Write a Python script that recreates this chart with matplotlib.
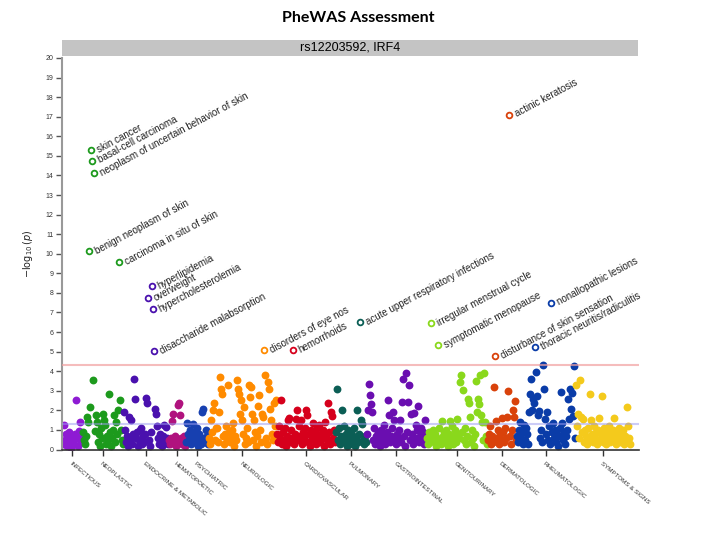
import numpy as np
import matplotlib.pyplot as plt

# categories in plot order
categories = ['INFECTIOUS', 'NEOPLASTIC', 'ENDOCRINE & METABOLIC', 'HEMATOPOETIC',
              'PSYCHIATRIC', 'NEUROLOGIC', 'CARDIOVASCULAR', 'PULMONARY',
              'GASTROINTESTINAL', 'GENITOURINARY', 'DERMATOLOGIC', 'RHEUMATOLOGIC',
              'SYMPTOMS & SIGNS']
colors = ['#8E1BD3', '#1D9A1D', '#4A11AE', '#B0127E', '#1740B0', '#FF8B00',
          '#D6001C', '#0B5E55', '#6A0EB0', '#8AD81C', '#D9420B', '#0A3CA8', '#F4CA1C']

# -log10(p) per phenotype, in phecode order within each category
infectious = [0.3, 1.24, 0.5, 0.8, 0.2, 0.6, 0.9, 0.4, 0.1, 0.7, 0.3, 0.5, 0.8, 2.55, 0.6,
              0.2, 0.95, 1.41, 0.4, 0.7]
neoplastic = [0.9, 0.5, 0.3, 0.7, 1.68, 1.4, 10.12, 2.16, 15.3, 14.76, 3.53, 14.1, 0.95, 1.78,
              1.4, 0.4, 0.8, 0.2, 1.1, 0.6, 1.8, 1.5, 1.24, 0.3, 0.7, 0.5, 2.86, 0.9, 0.2, 0.6,
              1.0, 1.75, 0.4, 1.4, 0.8, 2.0, 9.56, 2.55, 0.98, 0.5, 0.3]
endocrine = [1.9, 0.98, 0.4, 0.7, 0.2, 1.66, 0.5, 1.5, 0.3, 0.8, 3.62, 2.6, 0.6, 0.9, 0.2,
             0.5, 1.0, 1.1, 0.3, 0.7, 0.4, 0.8, 2.65, 2.35, 7.72, 0.5, 0.2, 0.9, 8.33, 7.16,
             5.02, 2.09, 1.83, 1.19, 0.6, 0.3, 0.8, 0.5, 0.2, 0.7, 1.27, 0.4, 1.15, 0.6, 0.3]
hematopoetic = [0.5, 0.3, 0.6, 1.45, 1.81, 0.4, 0.7, 0.2, 0.5, 2.25, 2.4, 1.75, 0.6, 0.3,
                0.5, 0.7, 0.2]
psychiatric = [0.4, 1.34, 0.8, 0.5, 1.0, 0.3, 0.7, 1.3, 0.9, 0.4, 0.6, 1.09, 0.2, 0.8, 0.5,
               0.3, 1.92, 2.09, 0.6, 0.4, 0.99, 0.7, 0.3]
neurologic = [0.6, 0.3, 1.5, 0.9, 2.04, 2.35, 0.5, 1.1, 1.09, 0.4, 1.92, 3.7, 3.11, 2.86, 0.7,
              0.3, 0.8, 1.2, 0.5, 3.28, 0.9, 0.4, 0.6, 1.0, 1.34, 0.2, 0.7, 0.5, 3.54, 3.11,
              2.85, 1.83, 2.52, 1.49, 0.8, 2.17, 0.3, 0.6, 1.1, 0.4, 3.28, 2.68, 3.2, 1.83,
              0.5, 1.5, 0.9, 0.2, 0.7, 2.22, 2.8, 1.0, 0.4, 1.83, 1.66, 5.07, 3.79, 0.6, 0.3,
              3.45, 3.11, 2.09, 1.49, 0.8, 0.5, 2.35, 1.2, 2.55]
cardiovascular = [0.8, 0.4, 1.2, 0.6, 2.55, 0.3, 0.9, 0.5, 1.1, 0.2, 0.7, 1.5, 1.6, 0.4, 1.0,
                  0.6, 5.07, 0.3, 0.8, 1.58, 2.04, 0.5, 1.2, 0.7, 1.5, 0.3, 0.9, 0.6, 1.1,
                  2.0, 1.75, 0.4, 0.8, 0.2, 1.0, 0.6, 1.34, 0.5, 0.9, 0.3, 1.1, 0.7, 1.26,
                  0.4, 0.8, 0.6, 1.0, 0.2, 1.43, 0.7, 0.5, 2.38, 0.9, 0.3, 1.92, 1.7, 0.6,
                  1.0, 0.4]
pulmonary = [0.9, 3.11, 0.5, 1.1, 0.3, 0.7, 2.04, 0.6, 1.2, 0.4, 0.8, 0.2, 1.0, 0.6, 0.3,
             0.9, 0.5, 0.7, 1.1, 0.2, 0.6, 2.04, 0.4, 0.8, 6.5, 1.49, 1.32, 0.5, 0.3, 0.7, 0.4]
gastrointestinal = [0.8, 2.0, 3.37, 2.77, 2.34, 1.9, 0.5, 1.1, 0.3, 0.7, 0.4, 0.9, 0.6, 0.2,
                    1.0, 0.5, 0.8, 1.24, 0.3, 0.6, 0.9, 2.55, 1.75, 0.4, 0.7, 1.1, 1.92,
                    1.5, 0.5, 0.3, 0.8, 0.6, 1.0, 1.49, 0.4, 2.43, 3.62, 0.7, 0.2, 3.91, 0.9,
                    2.43, 3.28, 0.5, 1.83, 0.8, 0.3, 1.87, 0.6, 1.24, 1.0, 2.24, 0.4, 0.7,
                    1.1, 0.5, 0.9, 0.3, 1.49, 0.6]
genitourinary = [0.6, 0.3, 0.9, 0.5, 6.45, 0.7, 1.0, 0.4, 0.8, 0.2, 0.6, 5.33, 1.1, 0.5, 0.3,
                 1.44, 0.7, 0.9, 0.4, 1.0, 0.6, 0.2, 0.8, 1.48, 0.5, 1.2, 0.3, 0.7, 1.0, 0.4,
                 1.57, 0.8, 0.6, 3.45, 3.79, 0.9, 3.03, 0.5, 1.1, 0.3, 0.7, 2.58, 2.4, 1.65,
                 0.4, 1.0, 0.6, 0.2, 0.8, 3.5, 1.9, 2.58, 2.33, 3.79, 1.75, 1.4, 0.5, 3.9,
                 1.43, 0.7, 0.3]
dermatologic = [0.5, 0.8, 1.2, 0.3, 0.7, 0.4, 3.19, 4.77, 1.48, 0.6, 1.0, 0.3, 0.8, 0.5, 1.6,
                0.9, 0.4, 1.1, 0.6, 1.66, 2.97, 17.1, 0.7, 0.3, 1.0, 2.02, 1.66, 2.48, 0.5]
rheumatologic = [0.7, 0.4, 1.0, 1.4, 0.6, 0.9, 0.3, 1.24, 0.5, 1.1, 0.8, 0.3, 1.9, 2.85, 3.59,
                 2.0, 2.6, 2.4, 5.22, 3.96, 2.75, 1.75, 1.95, 0.6, 1.0, 0.4, 4.33, 3.11, 1.56,
                 0.8, 1.9, 0.5, 1.2, 0.3, 7.5, 0.9, 1.33, 0.6, 1.0, 0.4, 0.8, 0.2, 0.7, 1.1,
                 2.94, 1.33, 0.5, 0.9, 0.3, 0.7, 1.0, 2.6, 1.56, 3.11, 2.09, 2.9, 1.7, 4.27,
                 0.6]
symptoms = [3.3, 1.2, 1.79, 0.6, 3.54, 1.66, 0.9, 1.56, 0.4, 1.0, 0.7, 0.3, 1.1, 0.5, 2.86,
            1.5, 0.8, 0.4, 1.2, 0.6, 0.9, 0.3, 1.0, 1.6, 0.5, 0.8, 2.74, 0.4, 1.1, 0.7, 0.3,
            0.9, 0.6, 1.2, 0.4, 0.8, 0.5, 1.0, 1.6, 0.7, 0.3, 0.9, 0.6, 1.1, 0.4, 0.8, 0.5,
            1.0, 0.3, 0.7, 0.5, 2.17, 1.19, 0.6, 0.3]

series = [infectious, neoplastic, endocrine, hematopoetic, psychiatric, neurologic,
          cardiovascular, pulmonary, gastrointestinal, genitourinary, dermatologic,
          rheumatologic, symptoms]

# annotated phenotypes: category index, position within category, text
label_cat = [1, 1, 1, 1, 1, 2, 2, 2, 2, 5, 6, 7, 9, 9, 10, 10, 11, 11]
label_pos = [8, 9, 11, 6, 36, 28, 24, 29, 30, 55, 16, 24, 4, 11, 21, 7, 18, 34]
label_text = ['skin cancer', 'basal-cell carcinoma', 'neoplasm of uncertain behavior of skin',
              'benign neoplasm of skin', 'carcinoma in situ of skin', 'hyperlipidemia',
              'overweight', 'hypercholesterolemia', 'disaccharide malabsorption',
              'disorders of eye nos', 'hemorrhoids', 'acute upper respiratory infections',
              'irregular menstrual cycle', 'symptomatic menopause', 'actinic keratosis',
              'disturbance of skin sensation', 'thoracic neuritis/radiculitis',
              'nonallopathic lesions']

plt.rcParams['font.family'] = ['Liberation Sans', 'DejaVu Sans']
fig = plt.figure(figsize=(7.2, 5.4), dpi=100)
ax = fig.add_axes([62 / 720, 1 - 449.5 / 540, 577 / 720, 391.5 / 540])

offsets = np.cumsum([0] + [len(s) for s in series[:-1]])
labelled = set(zip(label_cat, label_pos))
centers = []
for k, vals in enumerate(series):
    x = offsets[k] + np.arange(len(vals))
    keep = [i for i in range(len(vals)) if (k, i) not in labelled]
    ax.scatter(x[keep], np.array(vals)[keep], s=32, color=colors[k], linewidths=0, zorder=2)
    centers.append(x.mean())

for c, p, t in zip(label_cat, label_pos, label_text):
    xx = offsets[c] + p
    yy = series[c][p]
    ax.scatter([xx], [yy], s=17, facecolor='white', edgecolor=colors[c], linewidths=1.3, zorder=4)
    ax.annotate(t, (xx, yy), xytext=(5, 0), textcoords='offset points', rotation=28,
                rotation_mode='anchor', ha='left', va='center', fontsize=7, color='#222222')

ax.axhline(4.3, color='#f2a0a0', lw=1.5, alpha=0.7, zorder=3)
ax.axhline(1.3, color='#9a9af0', lw=1.5, alpha=0.5, zorder=3)

ax.set_xlim(-0.5, 576.5)
ax.set_ylim(0, 20)
ax.set_yticks(range(0, 21))
ax.tick_params(axis='y', labelsize=5, length=4, width=1, colors='#555555', labelcolor='#333333', pad=2)
ax.set_xticks(centers)
ax.set_xticklabels(categories, rotation=-40, ha='left', va='top', rotation_mode='anchor',
                   fontsize=4.5, color='#333333')
ax.tick_params(axis='x', length=4, width=1, colors='#333333', pad=4)
for s in ['top', 'right']:
    ax.spines[s].set_visible(False)
ax.spines['left'].set_color('#999999')
ax.spines['left'].set_linewidth(1.5)
ax.spines['bottom'].set_color('#333333')
ax.spines['bottom'].set_linewidth(1.2)
ax.set_ylabel(r'$-\log_{10}(p)$', fontsize=7, labelpad=8, color='#222222')

# header strip
fig.patches.append(plt.Rectangle((62 / 720, 1 - 56 / 540), 576 / 720, 16 / 540,
                                 transform=fig.transFigure, facecolor='#c4c4c4',
                                 edgecolor='none', zorder=0))
fig.text(350 / 720, 1 - 48 / 540, 'rs12203592, IRF4', ha='center', va='center', fontsize=9)
fig.text(358 / 720, 1 - 18 / 540, 'PheWAS Assessment', ha='center', va='center',
         fontsize=11.5, fontweight='bold', family='Lato')

fig.savefig('out.png', dpi=100)
